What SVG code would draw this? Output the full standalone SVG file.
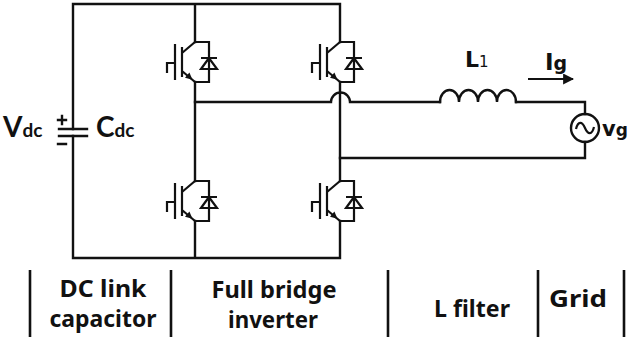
<svg xmlns="http://www.w3.org/2000/svg" xmlns:xlink="http://www.w3.org/1999/xlink" width="629" height="342" viewBox="0 0 629 342">
<style>
.w{fill:none;stroke:#111;stroke-width:2.4;stroke-linecap:square;stroke-linejoin:miter}
.d{fill:none;stroke:#111;stroke-width:2.2;stroke-linejoin:miter}
.bar{stroke:#111;stroke-width:2.6}
.lbl{font-family:"Noto Sans","Open Sans",sans-serif;font-weight:700;font-size:24px;fill:#111;text-anchor:middle}
.sym{font-family:Lato,"Noto Sans",sans-serif;font-weight:700;fill:#111}
.sym2{font-family:"DejaVu Sans","Noto Sans",sans-serif;font-weight:700;fill:#111}
</style>
<defs>
<g id="igbt">
<path class="d" d="M0,-20 L-13,-9 M-13,-15 V15 M-20,-18 V18 M-28,11 V1 H-20 M-13,9 L0,20 M0,-20 H14 V20 H0 M6,-4 H22 M14,-4 L6,7 H22 Z"/>
<path d="M-2.5,17.8 L-10,15.8 L-5.6,10.6 Z" fill="#111"/>
</g>
<marker id="arr" viewBox="0 0 10 10" refX="9" refY="5" markerWidth="5" markerHeight="5" orient="auto" markerUnits="strokeWidth"><path d="M0,0 L10,5 L0,10 Z" fill="#111"/></marker>
</defs>
<rect width="629" height="342" fill="#fff"/>
<g id="connectors">
<path class="w" d="M195,42 V4 H73 V129 M73,136 V258 H340 V221 M195,258 V221 M195,82 V181 M340,4 V42 M340,82 V181 M195,4 H340"/>
<path class="w" d="M195,102 H331 A9.5,9.5 0 0 1 350,102 H440 M516,102 H585 V114 M585,142 V158 H340"/>
</g>
<g id="Cdc">
<path class="w" d="M59,129 H87 M59,136 H87"/>
<path class="w" d="M58,120 H66 M62,116 V124 M58,144 H66"/>
<text class="sym" x="3" y="137" font-size="28">V<tspan font-size="19">dc</tspan></text>
<text class="sym" x="96" y="137" font-size="28">C<tspan font-size="19">dc</tspan></text>
</g>
<g id="S1"><use xlink:href="#igbt" x="195" y="62"/></g>
<g id="S2"><use xlink:href="#igbt" x="340" y="62"/></g>
<g id="S3"><use xlink:href="#igbt" x="195" y="201"/></g>
<g id="S4"><use xlink:href="#igbt" x="340" y="201"/></g>
<g id="L1">
<path class="w" d="M440,102 A9.5,12 0 0 1 459,102 A9.5,12 0 0 1 478,102 A9.5,12 0 0 1 497,102 A9.5,12 0 0 1 516,102"/>
<text class="sym2" x="465" y="67" font-size="22">L<tspan font-size="15" font-weight="400">1</tspan></text>
</g>
<g id="Ig">
<line x1="528" y1="79" x2="573" y2="79" stroke="#111" stroke-width="2.2" marker-end="url(#arr)"/>
<text class="sym2" x="545" y="70" font-size="23">I<tspan font-size="19">g</tspan></text>
</g>
<g id="vg">
<circle cx="585" cy="128" r="14" class="w"/>
<path class="d" d="M576,129 C578,121 582,121 585,128 C588,135 592,135 594,127"/>
<text class="sym2" x="602" y="136" font-size="21">v<tspan font-size="17">g</tspan></text>
</g>
<g id="labels">
<line class="bar" x1="30" y1="270" x2="30" y2="337"/>
<line class="bar" x1="171" y1="270" x2="171" y2="337"/>
<line class="bar" x1="388" y1="270" x2="388" y2="337"/>
<line class="bar" x1="538" y1="270" x2="538" y2="337"/>
<line class="bar" x1="624" y1="270" x2="624" y2="337"/>
<text class="lbl" x="103" y="297" textLength="87" lengthAdjust="spacingAndGlyphs">DC link</text>
<text class="lbl" x="103" y="327" textLength="107" lengthAdjust="spacingAndGlyphs">capacitor</text>
<text class="lbl" x="274" y="298" textLength="125" lengthAdjust="spacingAndGlyphs">Full bridge</text>
<text class="lbl" x="273" y="328" textLength="90" lengthAdjust="spacingAndGlyphs">inverter</text>
<text class="lbl" x="472" y="317" textLength="76" lengthAdjust="spacingAndGlyphs">L filter</text>
<text class="lbl" x="578" y="307" textLength="58" lengthAdjust="spacingAndGlyphs">Grid</text>
</g>
</svg>
